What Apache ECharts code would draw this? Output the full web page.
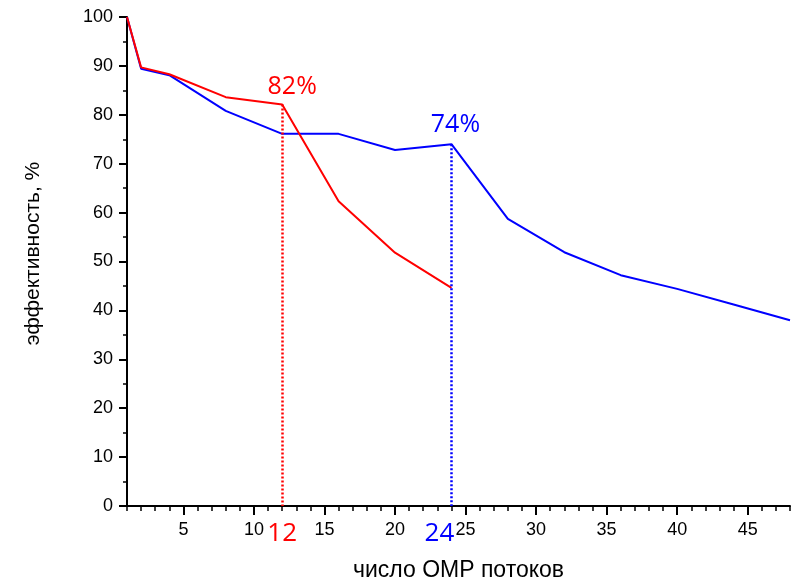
<!DOCTYPE html>
<html>
<head>
<meta charset="utf-8">
<script src="https://cdn.jsdelivr.net/npm/echarts@6/dist/echarts.min.js"></script>
<style>html,body{margin:0;padding:0;background:#fff}#c{width:802px;height:586px}</style>
</head>
<body>
<div id="c"></div>
<script>
// Data
const threadsRed = [1, 2, 4, 8, 12, 16, 20, 24];
const effRed = [100, 89.7, 88.3, 83.6, 82.1, 62.3, 51.8, 44.6];
const threadsBlue = [1, 2, 4, 8, 12, 16, 20, 24, 28, 32, 36, 40, 44, 48];
const effBlue = [100, 89.4, 88.1, 80.8, 76.1, 76.1, 72.8, 74.0, 58.7, 51.9, 47.2, 44.4, 41.2, 38.0];
const peakRedX = 12;
const peakBlueX = 24;
const xTickLabels = [5, 10, 15, 20, 25, 30, 35, 40, 45];
const yTickLabels = [0, 10, 20, 30, 40, 50, 60, 70, 80, 90, 100];
const xTitle = 'число OMP потоков';
const yTitle = 'эффективность, %';

const red = '#ff0000', blue = '#0000ff';
const pairs = (xs, ys) => xs.map((x, i) => [x, ys[i]]);
const valAt = (xs, ys, x) => ys[xs.indexOf(x)];
const redPeakY = valAt(threadsRed, effRed, peakRedX);
const bluePeakY = valAt(threadsBlue, effBlue, peakBlueX);
const minorX = [];
for (let i = 1; i <= 48; i++) minorX.push(i);

const chart = echarts.init(document.getElementById('c'), null, {renderer: 'canvas'});
const axisCommon = {
  axisLine: {show: true, onZero: false, lineStyle: {color: '#000', width: 2}},
  splitLine: {show: false}
};
chart.setOption({
  animation: false,
  backgroundColor: '#fff',
  grid: {left: 127, right: 12, top: 17, bottom: 80, containLabel: false, outerBoundsMode: 'none'},
  xAxis: [{
    type: 'value', min: 1, max: 48,
    ...axisCommon,
    axisTick: {show: true, customValues: xTickLabels, length: 9, lineStyle: {color: '#000', width: 2}},
    axisLabel: {
      show: true, customValues: [...xTickLabels, peakRedX, peakBlueX],
      margin: 15, fontFamily: 'Liberation Sans', fontSize: 18, color: '#000',
      formatter: v => v === peakRedX ? '{r|' + v + '}' : v === peakBlueX ? '{b|' + v + '}' : String(v),
      rich: {
        r: {color: red, fontFamily: 'Open Sans', fontSize: 26, padding: [0, 0, 0, 0]},
        b: {color: blue, fontFamily: 'Open Sans', fontSize: 26, padding: [0, 24, 0, 0]}
      }
    },
    name: xTitle, nameLocation: 'middle', nameGap: 53,
    nameTextStyle: {fontFamily: 'Liberation Sans', fontSize: 23, color: '#000'}
  }, {
    type: 'value', min: 1, max: 48, position: 'bottom',
    axisLine: {show: false}, splitLine: {show: false},
    axisLabel: {show: false},
    axisTick: {show: true, customValues: minorX, length: 5, lineStyle: {color: '#000', width: 1.5}}
  }],
  yAxis: {
    type: 'value', min: 0, max: 100, interval: 10,
    ...axisCommon,
    axisTick: {show: true, length: 8, lineStyle: {color: '#000', width: 2}},
    minorTick: {show: true, splitNumber: 2, length: 4, lineStyle: {color: '#000', width: 1.5}},
    minorSplitLine: {show: false},
    axisLabel: {margin: 14, fontFamily: 'Liberation Sans', fontSize: 18, color: '#000'},
    name: yTitle, nameLocation: 'middle', nameGap: 83, nameRotate: 90,
    nameTextStyle: {fontFamily: 'Liberation Sans', fontSize: 21, color: '#000', padding: [0, 0, 0, 16]}
  },
  series: [{
    type: 'line', name: 'blue', data: pairs(threadsBlue, effBlue),
    symbol: 'none', lineStyle: {color: blue, width: 2}, itemStyle: {color: blue},
    markLine: {
      silent: true, symbol: ['none', 'none'],
      lineStyle: {color: blue, type: [2, 2], width: 2.5}, label: {show: false},
      data: [[{coord: [peakBlueX, bluePeakY]}, {coord: [peakBlueX, 0]}]]
    },
    markPoint: {
      silent: true,
      data: [{coord: [peakBlueX, bluePeakY], value: Math.round(bluePeakY)}],
      symbol: 'circle', symbolSize: 0,
      label: {show: true, position: 'inside', offset: [4, -19], formatter: p => p.value + '%',
        color: blue, fontFamily: 'Open Sans', fontSize: 25}
    }
  }, {
    type: 'line', name: 'red', data: pairs(threadsRed, effRed),
    symbol: 'none', lineStyle: {color: red, width: 2}, itemStyle: {color: red},
    markLine: {
      silent: true, symbol: ['none', 'none'],
      lineStyle: {color: red, type: [2, 2], width: 2.5}, label: {show: false},
      data: [[{coord: [peakRedX, redPeakY]}, {coord: [peakRedX, 0]}]]
    },
    markPoint: {
      silent: true,
      data: [{coord: [peakRedX, redPeakY], value: Math.round(redPeakY)}],
      symbol: 'circle', symbolSize: 0,
      label: {show: true, position: 'inside', offset: [10, -18], formatter: p => p.value + '%',
        color: red, fontFamily: 'Open Sans', fontSize: 25}
    }
  }]
});
</script>
</body>
</html>
